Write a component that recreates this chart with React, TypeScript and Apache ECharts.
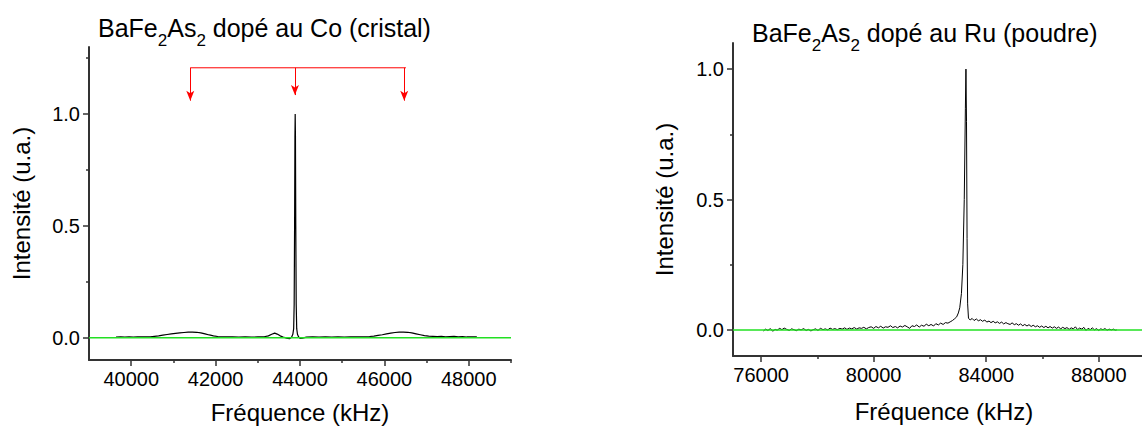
import React, { useEffect, useRef } from "react";
import * as echarts from "echarts";

// ---------- data ----------
const coSpectrum: [number, number][] = [
  [39640, 0.002], [39750, 0.003], [39850, 0.002], [39950, 0.003], [40050, 0.002],
  [40150, 0.003], [40250, 0.003], [40350, 0.004], [40450, 0.004], [40550, 0.006],
  [40650, 0.008], [40750, 0.011], [40850, 0.014], [40950, 0.017], [41050, 0.019],
  [41150, 0.021], [41250, 0.023], [41350, 0.025], [41450, 0.025], [41550, 0.024],
  [41650, 0.021], [41750, 0.017], [41850, 0.012], [41950, 0.008], [42050, 0.005],
  [42150, 0.004], [42250, 0.003], [42400, 0.003], [42550, 0.002], [42700, 0.003],
  [42850, 0.002], [43000, 0.003], [43150, 0.004], [43250, 0.008], [43330, 0.015],
  [43400, 0.02], [43460, 0.016], [43530, 0.008], [43600, 0.003], [43680, -0.002],
  [43750, -0.005], [43800, 0.002], [43830, 0.015], [43850, 0.04], [43862, 0.15],
  [43872, 0.5], [43880, 0.9], [43886, 1.0], [43892, 0.9], [43900, 0.5],
  [43910, 0.15], [43922, 0.04], [43940, 0.015], [43965, 0.004], [44000, -0.003],
  [44060, -0.002], [44150, 0.002], [44300, 0.003], [44450, 0.002], [44600, 0.003],
  [44750, 0.002], [44900, 0.003], [45050, 0.002], [45200, 0.003], [45350, 0.003],
  [45500, 0.004], [45650, 0.005], [45750, 0.007], [45850, 0.01], [45950, 0.013],
  [46050, 0.017], [46150, 0.02], [46250, 0.023], [46350, 0.025], [46450, 0.025],
  [46550, 0.024], [46650, 0.021], [46750, 0.017], [46850, 0.013], [46950, 0.009],
  [47050, 0.007], [47150, 0.006], [47250, 0.005], [47350, 0.006], [47450, 0.004],
  [47550, 0.005], [47650, 0.006], [47750, 0.004], [47850, 0.005], [47950, 0.003],
  [48050, 0.004], [48190, 0.003],
];

const ruSpectrum: [number, number][] = [
  [76080, -0.004], [76160, 0.003], [76240, -0.002], [76330, 0.005], [76410, -0.005],
  [76500, 0.002], [76570, -0.001], [76660, 0.006], [76740, 0.001], [76820, 0.007],
  [76910, 0.002], [77000, -0.002], [77080, 0.004], [77170, 0.001], [77250, -0.003],
  [77340, 0.003], [77420, 0.0], [77510, 0.005], [77600, -0.002], [77680, 0.002],
  [77770, -0.004], [77850, 0.001], [77940, 0.004], [78020, -0.002], [78110, 0.006],
  [78200, 0.001], [78280, 0.004], [78370, 0.0], [78450, 0.007], [78540, 0.002],
  [78620, 0.005], [78710, 0.001], [78800, 0.006], [78880, 0.003], [78970, 0.008],
  [79050, 0.002], [79140, 0.007], [79220, 0.004], [79310, 0.009], [79400, 0.003],
  [79480, 0.008], [79570, 0.006], [79650, 0.01], [79740, 0.004], [79820, 0.009],
  [79910, 0.012], [80000, 0.006], [80080, 0.013], [80170, 0.008], [80250, 0.014],
  [80340, 0.007], [80420, 0.012], [80510, 0.01], [80600, 0.016], [80680, 0.009],
  [80770, 0.013], [80850, 0.008], [80940, 0.015], [81020, 0.011], [81110, 0.017],
  [81190, 0.012], [81280, 0.006], [81360, 0.016], [81450, 0.013], [81530, 0.019],
  [81620, 0.011], [81700, 0.018], [81790, 0.014], [81870, 0.022], [81960, 0.016],
  [82040, 0.021], [82130, 0.015], [82210, 0.024], [82300, 0.019], [82380, 0.026],
  [82470, 0.021], [82550, 0.028], [82640, 0.026], [82720, 0.031], [82800, 0.036],
  [82880, 0.043], [82950, 0.05], [83010, 0.065], [83060, 0.085], [83120, 0.14],
  [83170, 0.25], [83220, 0.5], [83260, 0.85], [83280, 1.0], [83300, 0.8],
  [83320, 0.35], [83340, 0.1], [83370, 0.045], [83430, 0.038], [83500, 0.044],
  [83570, 0.036], [83650, 0.042], [83720, 0.035], [83800, 0.039], [83870, 0.033],
  [83950, 0.038], [84020, 0.03], [84100, 0.034], [84170, 0.028], [84250, 0.033],
  [84320, 0.027], [84400, 0.031], [84470, 0.025], [84550, 0.03], [84620, 0.023],
  [84700, 0.028], [84770, 0.024], [84850, 0.021], [84920, 0.027], [85000, 0.02],
  [85070, 0.024], [85150, 0.018], [85220, 0.023], [85300, 0.016], [85370, 0.021],
  [85450, 0.015], [85520, 0.02], [85600, 0.013], [85670, 0.018], [85750, 0.012],
  [85820, 0.016], [85900, 0.01], [85970, 0.015], [86050, 0.009], [86120, 0.014],
  [86200, 0.008], [86270, 0.013], [86350, 0.007], [86420, 0.012], [86500, 0.006],
  [86570, 0.011], [86650, 0.004], [86720, 0.01], [86800, 0.005], [86870, 0.009],
  [86950, 0.002], [87020, 0.008], [87100, 0.004], [87170, 0.012], [87250, 0.001],
  [87320, 0.007], [87400, 0.003], [87470, 0.01], [87550, -0.002], [87620, 0.006],
  [87700, 0.001], [87770, 0.008], [87850, 0.0], [87920, 0.005], [88000, -0.002],
  [88070, 0.004], [88150, 0.001], [88220, 0.005], [88300, -0.001], [88370, 0.003],
  [88450, 0.0], [88520, 0.003], [88590, -0.001], [88640, 0.0],
];

const coBaseline: [number, number][] = [[39000, 0], [49000, 0]];
const ruBaseline: [number, number][] = [[75000, 0], [90000, 0]];

const arrowBarY = 1.207;
const coArrowBar: [number, number][] = [[41400, arrowBarY], [46510, arrowBarY]];
const coArrowX = [41400, 43880, 46470];
const coArrowEndY = [1.06, 1.085, 1.06];

const coXRange = [39000, 49000];
const ruXRange = [75000, 90000];
const coYRange = [-0.1, 1.3];
const ruYRange = [-0.1, 1.1];

const coXMajor = [40000, 42000, 44000, 46000, 48000];
const coXMinor = [41000, 43000, 45000, 47000, 49000];
const ruXMajor = [76000, 80000, 84000, 88000];
const ruXMinor = [78000, 82000, 86000, 90000];
const coYMajor = [0, 0.5, 1.0];
const coYMinor = [0.25, 0.75, 1.25];
const ruYMajor = [0, 0.5, 1.0];
const ruYMinor = [0.25, 0.75];

const titleCo = "{n|BaFe}{s|2}{n|As}{s|2}{z| }{n|dopé au Co (cristal)}";
const titleRu = "{n|BaFe}{s|2}{n|As}{s|2}{z| }{n|dopé au Ru (poudre)}";
const xName = "Fréquence (kHz)";
const yName = "Intensité (u.a.)";

// ---------- styles ----------
const FONT = "'Liberation Sans', Arial, sans-serif";
const AXIS_COLOR = "#333";

const richTitle = {
  n: { fontSize: 25, fontWeight: "normal", fontFamily: FONT, color: "#000", lineHeight: 25, verticalAlign: "top" },
  s: { fontSize: 17, fontWeight: "normal", fontFamily: FONT, color: "#000", lineHeight: 17, verticalAlign: "bottom" },
  z: { fontSize: 25, fontWeight: "normal", fontFamily: FONT, color: "#000", lineHeight: 34 },
};

function majorX(grid: number, range: number[], major: number[], nameGap: number) {
  return {
    type: "value", gridIndex: grid, position: "bottom", min: range[0], max: range[1],
    name: xName, nameLocation: "middle", nameGap,
    nameTextStyle: { fontSize: 24, color: "#000", fontFamily: FONT },
    axisLine: { show: true, onZero: false, lineStyle: { color: AXIS_COLOR, width: 2 } },
    axisTick: { show: true, inside: false, length: 6, customValues: major, lineStyle: { color: AXIS_COLOR, width: 1.5 } },
    axisLabel: { show: true, customValues: major, margin: 9, fontSize: 20, color: "#000", fontFamily: FONT, formatter: (v: number) => String(v) },
    splitLine: { show: false }, minorTick: { show: false },
  };
}
function minorX(grid: number, range: number[], minor: number[]) {
  return {
    type: "value", gridIndex: grid, position: "bottom", min: range[0], max: range[1],
    axisLine: { show: false, onZero: false },
    axisTick: { show: true, inside: false, length: 3, customValues: minor, lineStyle: { color: AXIS_COLOR, width: 1.5 } },
    axisLabel: { show: false, customValues: minor },
    splitLine: { show: false },
  };
}
function majorY(grid: number, range: number[], major: number[], nameGap: number) {
  return {
    type: "value", gridIndex: grid, position: "left", min: range[0], max: range[1],
    name: yName, nameLocation: "middle", nameGap,
    nameTextStyle: { fontSize: 24, color: "#000", fontFamily: FONT },
    axisLine: { show: true, onZero: false, lineStyle: { color: AXIS_COLOR, width: 2 } },
    axisTick: { show: true, inside: false, length: 6, customValues: major, lineStyle: { color: AXIS_COLOR, width: 1.5 } },
    axisLabel: { show: true, customValues: major, margin: 9, fontSize: 20, color: "#000", fontFamily: FONT, formatter: (v: number) => v.toFixed(1) },
    splitLine: { show: false }, minorTick: { show: false },
  };
}
function minorY(grid: number, range: number[], minor: number[]) {
  return {
    type: "value", gridIndex: grid, position: "left", min: range[0], max: range[1],
    axisLine: { show: false, onZero: false },
    axisTick: { show: true, inside: false, length: 3, customValues: minor, lineStyle: { color: AXIS_COLOR, width: 1.5 } },
    axisLabel: { show: false, customValues: minor },
    splitLine: { show: false },
  };
}

export default function App() {
  const ref = useRef<HTMLDivElement>(null);
  useEffect(() => {
    document.body.style.margin = "0";
    if (!ref.current) return;
    const chart = echarts.init(ref.current, undefined, { renderer: "svg" });
    const option: any = {
      animation: false,
      backgroundColor: "#fff",
      title: [
        { text: titleCo, left: 98, top: 15, padding: 0, textStyle: { fontWeight: "normal", rich: richTitle } },
        { text: titleRu, left: 752, top: 20, padding: 0, textStyle: { fontWeight: "normal", rich: richTitle } },
      ],
      grid: [
        { left: 89, top: 47, width: 422, height: 313, outerBoundsMode: "none", containLabel: false },
        { left: 733, top: 43, width: 422, height: 313, outerBoundsMode: "none", containLabel: false },
      ],
      xAxis: [
        majorX(0, coXRange, coXMajor, 40),
        minorX(0, coXRange, coXMinor),
        majorX(1, ruXRange, ruXMajor, 43),
        minorX(1, ruXRange, ruXMinor),
      ],
      yAxis: [
        majorY(0, coYRange, coYMajor, 56),
        minorY(0, coYRange, coYMinor),
        majorY(1, ruYRange, ruYMajor, 57),
        minorY(1, ruYRange, ruYMinor),
      ],
      series: [
        {
          type: "line", xAxisIndex: 0, yAxisIndex: 0, data: coSpectrum, symbol: "none", showSymbol: false,
          silent: true, lineStyle: { color: "#000", width: 1.2 },
        },
        {
          type: "line", xAxisIndex: 0, yAxisIndex: 0, data: coBaseline, symbol: "none", showSymbol: false,
          silent: true, lineStyle: { color: "#22e022", width: 1.5 },
        },
        {
          type: "line", xAxisIndex: 0, yAxisIndex: 0, data: coArrowBar, symbol: "none", showSymbol: false,
          silent: true, lineStyle: { color: "#f00", width: 1 },
          markLine: {
            silent: true, symbol: ["none", "arrow"], symbolSize: [6, 10],
            label: { show: false },
            lineStyle: { color: "#f00", width: 1, type: "solid" },
            data: coArrowX.map((x, i) => [{ coord: [x, arrowBarY] }, { coord: [x, coArrowEndY[i]] }]),
          },
        },
        {
          type: "line", xAxisIndex: 2, yAxisIndex: 2, data: ruSpectrum, symbol: "none", showSymbol: false,
          silent: true, lineStyle: { color: "#000", width: 1 },
        },
        {
          type: "line", xAxisIndex: 2, yAxisIndex: 2, data: ruBaseline, symbol: "none", showSymbol: false,
          silent: true, lineStyle: { color: "#22e022", width: 1.5 },
        },
      ],
    };
    chart.setOption(option);
    return () => chart.dispose();
  }, []);
  return <div ref={ref} style={{ width: 1142, height: 427 }} />;
}
